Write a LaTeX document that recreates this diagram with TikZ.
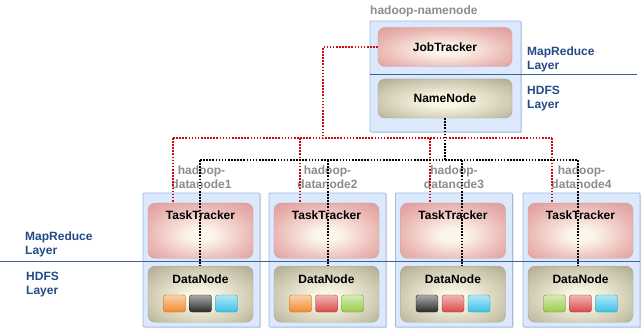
\documentclass[tikz,border=0pt]{standalone}
\usepackage{fontspec}
\setmainfont{Liberation Sans}
\usetikzlibrary{calc,shadows}
\definecolor{boxfill}{HTML}{DCE8FB}
\definecolor{boxborder}{HTML}{9DBCE6}
\definecolor{ttin}{HTML}{FCF5EA}
\definecolor{ttmid}{HTML}{E9B4B1}
\definecolor{ttout}{HTML}{D98C8B}
\definecolor{ttedge}{HTML}{D08080}
\definecolor{ttborder}{HTML}{C4A0A0}
\definecolor{dnin}{HTML}{FAF7E4}
\definecolor{dnmid}{HTML}{CCC7AF}
\definecolor{dnout}{HTML}{9C967F}
\definecolor{dnedge}{HTML}{8E8871}
\definecolor{dnborder}{HTML}{A8A496}
\definecolor{graytxt}{HTML}{8C8C8C}
\definecolor{bluetxt}{HTML}{234B85}
\definecolor{layerln}{HTML}{3E6291}
\definecolor{reddot}{HTML}{D00A0A}
\definecolor{sqorange}{HTML}{F58A2E}
\definecolor{sqblack}{HTML}{2A2A2A}
\definecolor{sqcyan}{HTML}{3CC2E8}
\definecolor{sqred}{HTML}{DA4A4A}
\definecolor{sqgreen}{HTML}{98CC48}
\pgfdeclareradialshading{ttshade}{\pgfpoint{0bp}{-4bp}}{color(0bp)=(ttin); color(6bp)=(ttin); color(26bp)=(ttmid); color(44bp)=(ttout); color(72bp)=(ttedge)}
\pgfdeclareradialshading{dnshade}{\pgfpoint{0bp}{-4bp}}{color(0bp)=(dnin); color(6bp)=(dnin); color(26bp)=(dnmid); color(44bp)=(dnout); color(72bp)=(dnedge)}
\begin{document}
\begin{tikzpicture}[x=1pt,y=-1pt,
  every node/.style={font=\bfseries\fontsize{12}{13.5}\selectfont},
  outerbox/.style={draw=boxborder, fill=boxfill, line width=0.8pt, inner sep=0pt, rounded corners=1pt,
     drop shadow={shadow xshift=1.2pt, shadow yshift=-1.2pt, fill=black, opacity=0.15}},
  ttbox/.style={draw=ttborder, shading=ttshade, rounded corners=7pt, minimum width=105pt, inner sep=0pt, text height=16pt, text depth=39pt},
  dnbox/.style={draw=dnborder, shading=dnshade, rounded corners=7pt, minimum width=105pt, inner sep=0pt, text height=17pt, text depth=39pt},
  topbox/.style={rounded corners=7pt, minimum width=134pt, minimum height=39pt, inner sep=0pt},
  sq/.style={rounded corners=2.5pt, minimum width=22pt, minimum height=17pt, inner sep=0pt, draw=#1!75!black, top color=#1!40!white, bottom color=#1},
  graylbl/.style={text=graytxt, align=center, inner sep=0pt},
  layerlbl/.style={text=bluetxt, align=left, inner sep=0pt, anchor=north west},
  layerline/.style={draw=layerln, line width=1pt},
  reddots/.style={draw=reddot, line width=1.6pt, dash pattern=on 1.6pt off 1.5pt},
  blackdots/.style={draw=black, line width=1.6pt, dash pattern=on 1.6pt off 1.5pt}]
\useasboundingbox (0,0) rectangle (643,334);

% namenode
\node[graylbl, anchor=base west] (nnlbl) at (370,15) {hadoop-namenode};
\node[outerbox, minimum width=151pt, minimum height=111pt] (nnbox) at (445.5,76.5) {};
\node[topbox, draw=ttborder, shading=ttshade] (jt) at (445,47) {JobTracker};
\node[topbox, draw=dnborder, shading=dnshade] (nn) at (445,98.5) {NameNode};
\draw[layerline] (370,75) -- (637,75);
\node[layerlbl] (mrtop) at (527,47) {MapReduce\\Layer};
\node[layerlbl] (hdtop) at (527,86) {HDFS\\Layer};

% datanodes
\foreach \i/\cx/\ca/\cb/\cc in {1/201.5/sqorange/sqblack/sqcyan, 2/327.5/sqorange/sqred/sqgreen, 3/454/sqblack/sqred/sqcyan, 4/581.5/sqgreen/sqred/sqcyan}{
  \node[graylbl, anchor=north] (dl\i) at (\cx,166) {hadoop-\\datanode\i};
  \node[outerbox, minimum width=117pt, minimum height=134pt] (db\i) at (\cx,260) {};
  \node[ttbox, anchor=north] (tt\i) at (\cx-1,203) {TaskTracker};
  \node[dnbox, anchor=north] (dn\i) at (\cx-1,266) {DataNode};
  \node[sq=\ca] (s\i a) at (\cx-27,303.5) {};
  \node[sq=\cb] (s\i b) at (\cx-1,303.5) {};
  \node[sq=\cc] (s\i c) at (\cx+25,303.5) {};
}
\draw[layerline] (0,261) -- (640,261);
\node[layerlbl] (mrbot) at (25,232) {MapReduce\\Layer};
\node[layerlbl] (hdbot) at (26,272) {HDFS\\Layer};

% red (MapReduce) connectors
\coordinate (rc) at (323,138);
\coordinate (rb1) at (173,138);
\coordinate (rb2) at (300,138);
\coordinate (rb3) at (430,138);
\coordinate (rb4) at (552,138);
\draw[reddots] (jt.west) -| (rc);
\draw[reddots] (rb1) -- (rb4);
\foreach \i in {1,2,3,4}{\draw[reddots] (rb\i) -- (rb\i |- tt\i.north);}

% black (HDFS) connectors
\coordinate (bb1) at (200,160);
\coordinate (bb2) at (328,160);
\coordinate (bb3) at (462,160);
\coordinate (bb4) at (578,160);
\draw[blackdots] (nn.south) -- (nn.south |- bb1);
\draw[blackdots] (bb1) -- (bb4);
\foreach \i in {1,2,3,4}{\draw[blackdots] (bb\i) -- (bb\i |- dn\i.north);}
\end{tikzpicture}
\end{document}
